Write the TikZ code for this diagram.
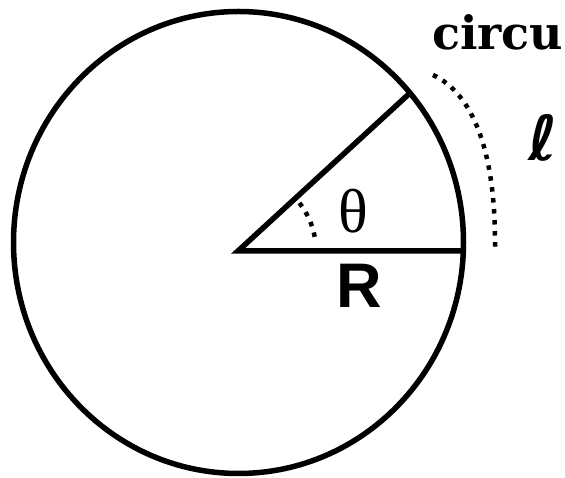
\documentclass[tikz,border=0pt]{standalone}
\usepackage{fontspec}
\setmainfont{Liberation Serif}
\newfontfamily\labelsans{Liberation Sans}
\newfontfamily\ellfont{DejaVu Sans}
\newfontfamily\headserif{DejaVu Serif}

\begin{document}
\begin{tikzpicture}[
    x=1pt, y=1pt,
    rim/.style={line width=5.5pt},
    spoke/.style={line width=5.5pt},
    dotarc/.style={line width=4.5pt, dash pattern=on 4.5pt off 6.5pt},
    seriflabel/.style={inner sep=0pt, font=\fontsize{#1}{#1}\selectfont},
    sanslabel/.style={inner sep=0pt, font=\labelsans\bfseries\fontsize{#1}{#1}\selectfont}
]
\useasboundingbox (0,0) rectangle (565,478);
\coordinate (M) at (238.5,235.5);
\coordinate (O) at (238,227);
\coordinate (A) at (463,227);
\coordinate (B) at (410,385);
% the circle and its two radii
\draw[rim] (M) ellipse [x radius=225, y radius=231];
\draw[spoke] (B) -- (O) -- (A);
% arc length and angle marks
\coordinate (arcTop) at (433,403);
\coordinate (arcEnd) at (495,230);
\draw[dotarc] (arcTop) .. controls (472,385) and (496,328) .. (arcEnd);
\draw[dotarc] (O) ++(38:78) arc[start angle=38, end angle=6, radius=78];
% labels
\node[seriflabel=62] (theta) at (353,267) {θ};
\node[sanslabel=63] (radius) at (359,192) {R};
\node[inner sep=0pt, font=\ellfont\bfseries\fontsize{62}{62}\selectfont] (ell) at (543,340) {ℓ};
\node[inner sep=0pt, font=\headserif\bfseries\fontsize{46}{46}\selectfont, anchor=base west] (circum) at (432,428) {circu};
\end{tikzpicture}
\end{document}
